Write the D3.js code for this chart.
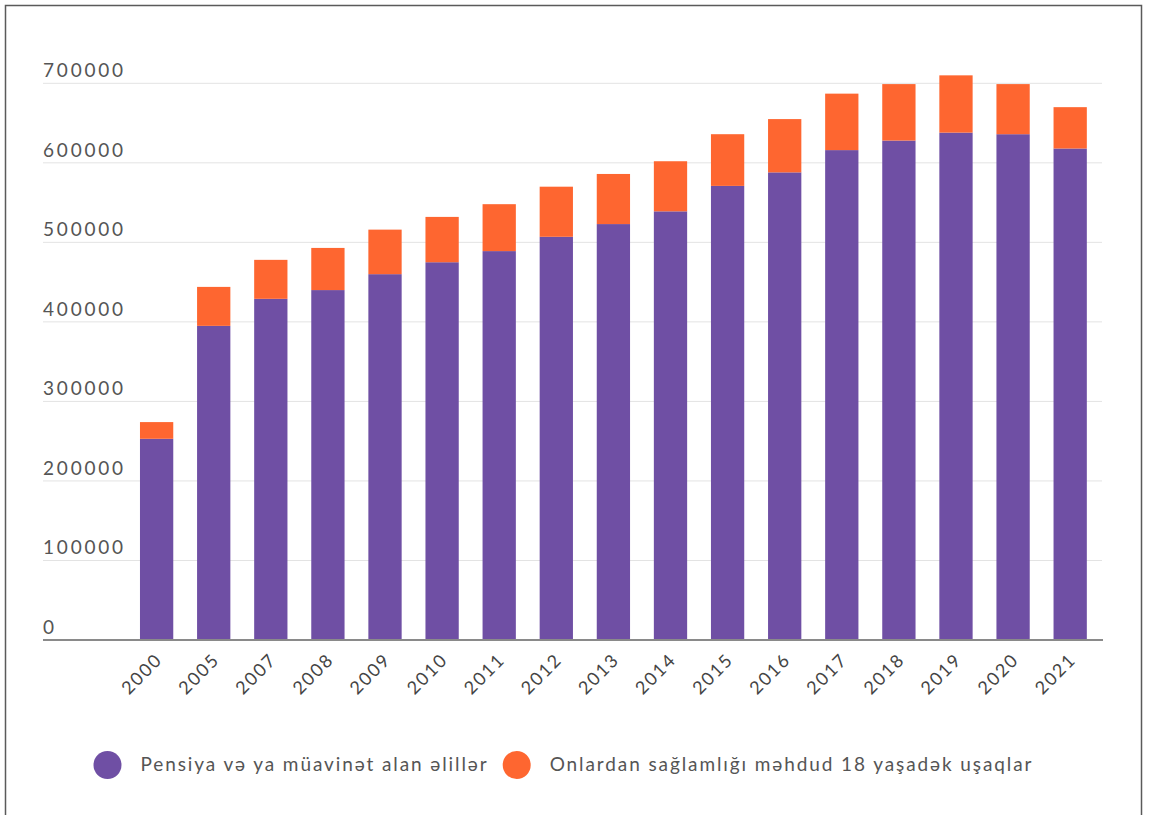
<!DOCTYPE html>
<html>
<head>
<meta charset="utf-8">
<script src="https://cdn.jsdelivr.net/npm/d3@7/dist/d3.min.js"></script>
<style>
  html, body { margin: 0; padding: 0; background: #fff; }
  svg { display: block; }
  text { font-family: Lato, "Open Sans", sans-serif; }
</style>
</head>
<body>
<svg id="chart" width="1150" height="815"></svg>
<script>
const years = ["2000","2005","2007","2008","2009","2010","2011","2012","2013","2014","2015","2016","2017","2018","2019","2020","2021"];
const pension = [253000, 395000, 429000, 440000, 460000, 475000, 489000, 507000, 523000, 539000, 571000, 588000, 616000, 628000, 638000, 636000, 618000];
const children = [21000, 49000, 49000, 53000, 56000, 57000, 59000, 63000, 63000, 63000, 65000, 67000, 71000, 71000, 72000, 63000, 52000];
const yTicks = [0, 100000, 200000, 300000, 400000, 500000, 600000, 700000];
const seriesNames = ["Pensiya və ya müavinət alan əlillər", "Onlardan sağlamlığı məhdud 18 yaşadək uşaqlar"];
const colors = ["#6f4fa4", "#fe6630"];

const svg = d3.select("#chart");

// frame
svg.append("rect").attr("x", 5.5).attr("y", 5.5).attr("width", 1136).attr("height", 900)
  .attr("fill", "none").attr("stroke", "#5a5a5a").attr("stroke-width", 1.5);

const gridLeft = 43, gridRight = 1102;
const x = d3.scaleBand().domain(years).range([125.7, 1101.1]).paddingInner(0.417).paddingOuter(0.25);
const y = d3.scaleLinear().domain([0, 700000]).range([640, 83.3]);

// gridlines + labels
const yg = svg.append("g");
yg.selectAll("line").data(yTicks.filter(d => d > 0)).join("line")
  .attr("x1", gridLeft).attr("x2", gridRight)
  .attr("y1", d => y(d)).attr("y2", d => y(d))
  .attr("stroke", "#e3e3e3").attr("stroke-width", 1);
yg.selectAll("text").data(yTicks).join("text")
  .attr("x", gridLeft).attr("y", d => y(d) - 6)
  .attr("font-size", 19).attr("letter-spacing", "2.8px")
  .attr("fill", "#555").text(d => d3.format("d")(d));

// stacked bars
const data = years.map((yr, i) => ({ year: yr, a: pension[i], b: children[i] }));
const stack = d3.stack().keys(["a", "b"])(data);
svg.append("g").selectAll("g").data(stack).join("g")
  .attr("fill", (d, i) => colors[i])
  .selectAll("rect").data(d => d).join("rect")
  .attr("x", d => x(d.data.year))
  .attr("width", x.bandwidth())
  .attr("y", d => y(d[1]))
  .attr("height", d => y(d[0]) - y(d[1]));

// x axis line
svg.append("line").attr("x1", gridLeft).attr("x2", 1103).attr("y1", 640).attr("y2", 640)
  .attr("stroke", "#8a8a8a").attr("stroke-width", 2);

// x labels
svg.append("g").selectAll("text").data(years).join("text")
  .attr("transform", d => `translate(${x(d) + x.bandwidth() / 2 - 2},${652}) rotate(-45)`)
  .attr("text-anchor", "end").attr("dy", "0.7em")
  .attr("font-size", 18).attr("letter-spacing", "1.8px")
  .attr("fill", "#444").text(d => d);

// legend
const legendPos = [107.5, 516.7];
const lg = svg.append("g");
seriesNames.forEach((name, i) => {
  lg.append("circle").attr("cx", legendPos[i]).attr("cy", 765).attr("r", 14).attr("fill", colors[i]);
  lg.append("text").attr("x", legendPos[i] + 33).attr("y", 771)
    .attr("font-size", 19).attr("letter-spacing", "1.9px")
    .attr("fill", "#555").text(name);
});
</script>
</body>
</html>
